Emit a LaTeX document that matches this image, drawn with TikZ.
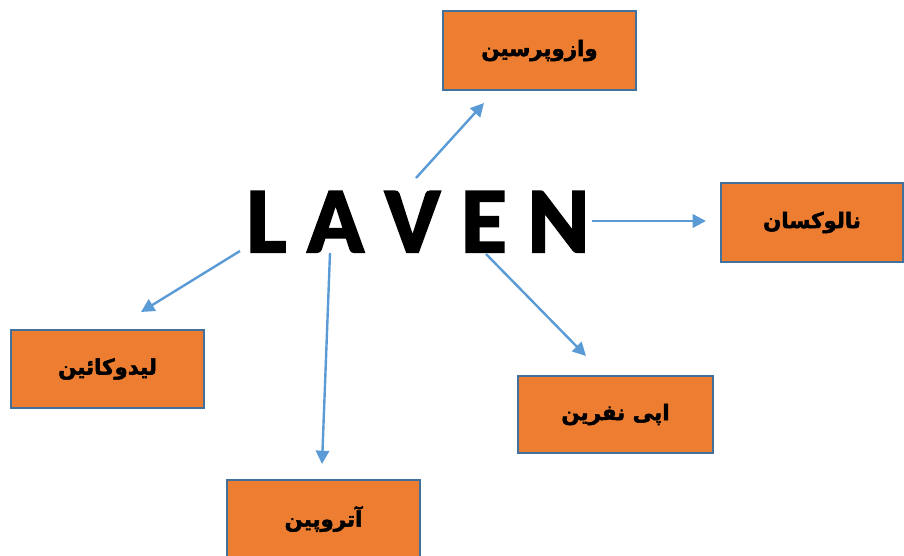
\documentclass[tikz,border=0pt]{standalone}
\usepackage{fontspec}
\usetikzlibrary{arrows.meta}
\TeXXeTstate=1
\newfontfamily\arabicfont[Script=Arabic, UprightFont={* Bold}, UprightFeatures={FakeBold=2.5}]{DejaVu Sans}
\newfontfamily\lavenfont[UprightFont={* Bold}, UprightFeatures={FakeBold=2.5}]{Carlito}
\definecolor{boxfill}{HTML}{ED7D31}
\definecolor{boxline}{HTML}{41719C}
\definecolor{arrowblue}{HTML}{5B9BD5}
\tikzset{
  drugbox/.style={draw=boxline, fill=boxfill, line width=1.5pt, inner sep=0pt,
    font=\arabicfont\fontsize{16}{18}\selectfont},
  linkarrow/.style={draw=arrowblue, line width=1.8pt,
    -{Triangle[length=10pt,width=10pt]}}
}
\begin{document}
\begin{tikzpicture}[x=0.75pt,y=-0.75pt]
\useasboundingbox (0,0) rectangle (904,556);
\clip (0,0) rectangle (904,556);
\node[anchor=base, font=\lavenfont\fontsize{70}{70}\selectfont] (laven) at (418,252) {L A V E N};
\node[drugbox, minimum width=144.75pt, minimum height=59.25pt] (vaso) at (539.5,50.5) {\beginR وازوپرسین\endR};
\node[drugbox, minimum width=136.5pt, minimum height=59.25pt] (nalo) at (812,222.5) {\beginR نالوکسان\endR};
\node[drugbox, minimum width=144.75pt, minimum height=58.5pt] (lido) at (107.5,369) {\beginR لیدوکائین\endR};
\node[drugbox, minimum width=146.25pt, minimum height=57.75pt] (epi) at (615.5,414.5) {\beginR اپی نفرین\endR};
\node[drugbox, minimum width=144.75pt, minimum height=58.5pt] (atro) at (323.5,519) {\beginR آتروپین\endR};
\coordinate (s1) at (416,178); \coordinate (t1) at (484,103);
\coordinate (s2) at (592,221); \coordinate (t2) at (706,221);
\coordinate (s3) at (486,254); \coordinate (t3) at (586,356);
\coordinate (s4) at (330,253); \coordinate (t4) at (322,464);
\coordinate (s5) at (240,251); \coordinate (t5) at (141,312);
\draw[linkarrow] (s1) -- (t1);
\draw[linkarrow] (s2) -- (t2);
\draw[linkarrow] (s3) -- (t3);
\draw[linkarrow] (s4) -- (t4);
\draw[linkarrow] (s5) -- (t5);
\end{tikzpicture}
\end{document}
